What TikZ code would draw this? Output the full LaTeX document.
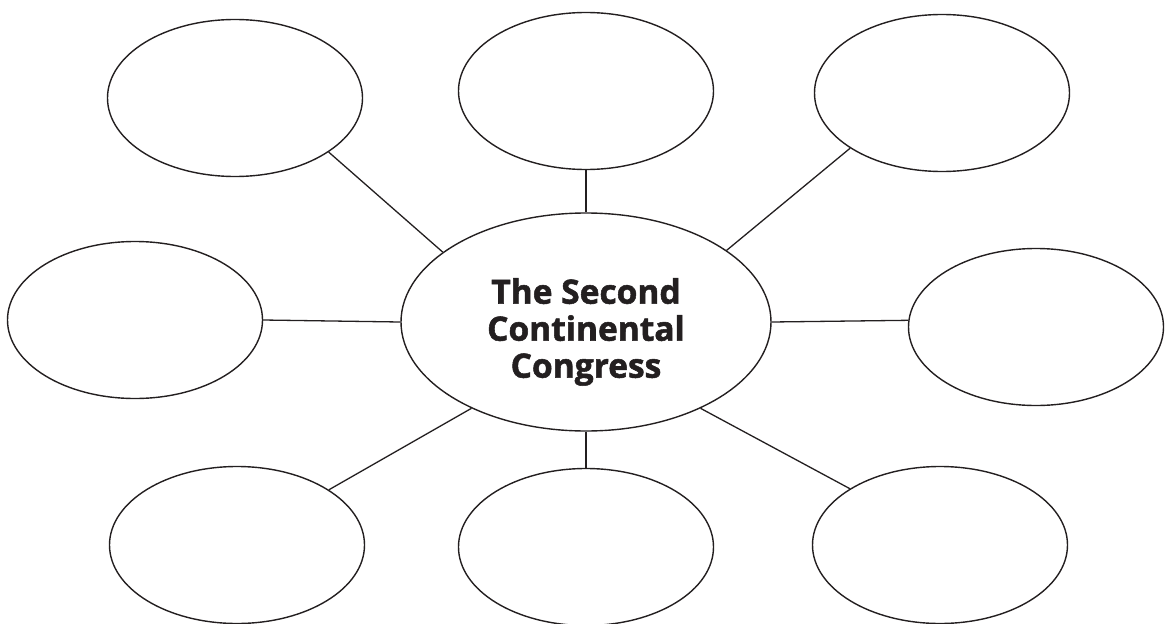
\documentclass[tikz,border=0pt]{standalone}
\usepackage{fontspec}
\setsansfont{Open Sans}[BoldFeatures={FakeBold=1.6}]
\usepackage{tikz}
\usetikzlibrary{shapes.geometric}
\definecolor{ink}{HTML}{231F20}
\tikzstyle{bubble}    = [ellipse, draw=ink, line width=1.4pt, minimum width=255pt, minimum height=157pt, inner sep=0pt]
\tikzstyle{hubbubble} = [ellipse, draw=ink, line width=1.4pt, minimum width=370pt, minimum height=218pt, inner sep=0pt]
\tikzstyle{hubtext}   = [align=center, inner sep=0pt, text=ink, yshift=-10pt, font=\sffamily\bfseries\fontsize{33.5}{37}\selectfont]
\tikzstyle{link}      = [draw=ink, line width=1.3pt]

\begin{document}
\begin{tikzpicture}[x=1pt, y=-1pt]
      \useasboundingbox (0,0) rectangle (1165,624);
      % Nodes
      %% Central topic
      \node (hub)        [hubbubble, label={[hubtext]center:The Second\\Continental\\Congress}] at (586,322) {};
      %%% Upper row
      \node (top_left)   [bubble]    at (235,98)   {};
      \node (top_mid)    [bubble]    at (586,91)   {};
      \node (top_right)  [bubble]    at (942,93)   {};
      %%% Middle row
      \node (mid_left)   [bubble]    at (135,320)  {};
      \node (mid_right)  [bubble]    at (1036,327) {};
      %%% Lower row
      \node (bot_left)   [bubble]    at (237,545)  {};
      \node (bot_mid)    [bubble]    at (586,547)  {};
      \node (bot_right)  [bubble]    at (940,545)  {};

      % % Spokes
      \draw [link] (top_left.-30)    -- (hub.154);
      \draw [link] (top_mid.south)   -- (hub.north);
      \draw [link] (top_right.-149)  -- (hub.27);
      \draw [link] (mid_left.east)   -- (hub.west);
      \draw [link] (hub.0)           -- (mid_right.177);
      \draw [link] (bot_left.31)     -- (hub.-143);
      \draw [link] (hub.south)       -- (bot_mid.north);
      \draw [link] (hub.-37)         -- (bot_right.148);
    \end{tikzpicture}
\end{document}
